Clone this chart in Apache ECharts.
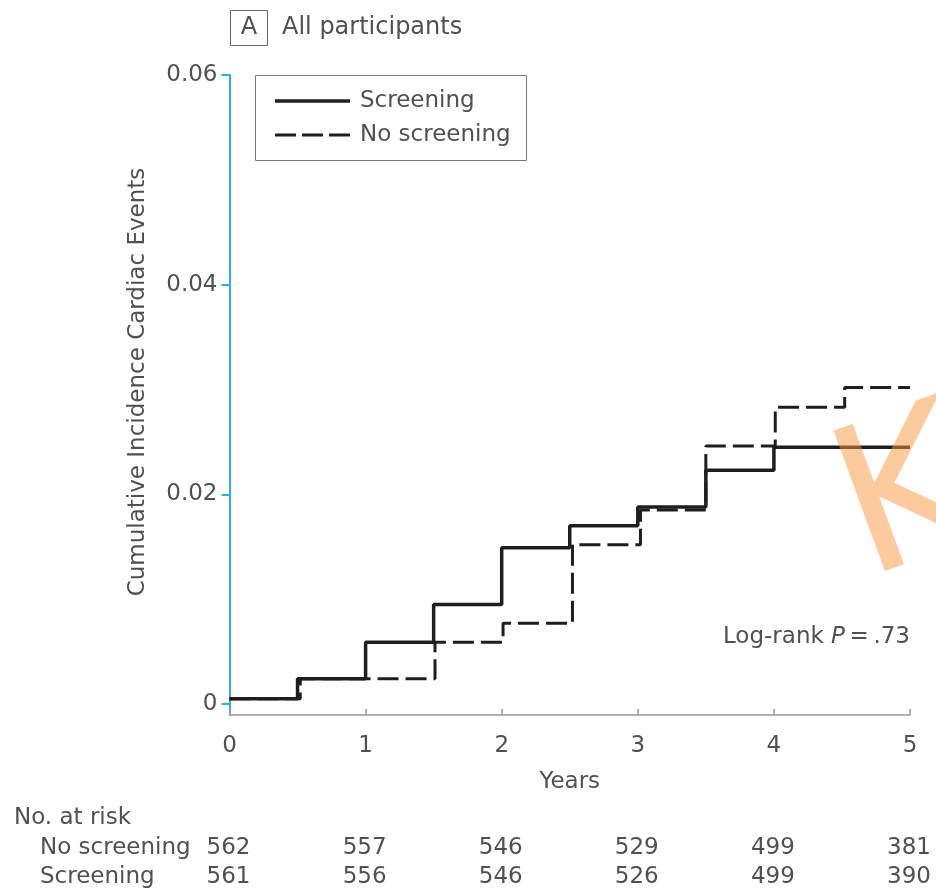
<!DOCTYPE html>
<html>
<head>
<meta charset="utf-8">
<script src="https://cdn.jsdelivr.net/npm/echarts@6/dist/echarts.min.js"></script>
<style>html,body{margin:0;padding:0;background:#fff;}#c{width:936px;height:891px;}</style>
</head>
<body>
<div id="c"></div>
<script>
// ---- data ----
var xTicks = [0, 1, 2, 3, 4, 5];
var yTickValues = [0, 0.02, 0.04, 0.06];
var screenTimes = [0, 0.5, 1.0, 1.5, 2.0, 2.5, 3.0, 3.5, 4.0, 5.0];
var screenVals  = [0.0005, 0.0024, 0.0059, 0.0095, 0.0149, 0.0170, 0.0188, 0.0223, 0.0245, 0.0245];
var noScreenTimes = [0, 0.52, 1.51, 2.01, 2.52, 3.02, 3.5, 4.01, 4.52, 5.0];
var noScreenVals  = [0.0005, 0.0024, 0.0059, 0.0077, 0.0152, 0.0185, 0.0246, 0.0283, 0.0302, 0.0302];
var riskYears = [0, 1, 2, 3, 4, 5];
var riskNoScreening = [562, 557, 546, 529, 499, 381];
var riskScreening = [561, 556, 546, 526, 499, 390];
var seriesNames = ['Screening', 'No screening'];
var rowLabels = ['No screening', 'Screening'];

var FONT = 'DejaVu Sans';
var TXT = '#505050';
var LINE = '#1e1e1e';
var DASH = [21, 7];

function pairs(t, v) { return t.map(function (x, i) { return [x, v[i]]; }); }

var chart = echarts.init(document.getElementById('c'), null, { renderer: 'canvas' });

var option = {
  animation: false,
  backgroundColor: '#fff',
  grid: { left: 229.5, right: 26, top: 75, bottom: 176, containLabel: false },
  xAxis: {
    type: 'value', min: 0, max: 5, interval: 1,
    name: 'Years', nameLocation: 'middle', nameGap: 56,
    nameTextStyle: { fontSize: 23, color: TXT, fontFamily: FONT },
    axisLine: { onZero: false, lineStyle: { color: '#9a9a9a', width: 1.5 } },
    axisTick: { show: true, inside: true, length: 6, lineStyle: { color: '#9a9a9a', width: 1.5 } },
    axisLabel: { fontSize: 23, color: TXT, fontFamily: FONT, margin: 20 },
    splitLine: { show: false }
  },
  yAxis: {
    type: 'value', min: -0.00105, max: 0.06,
    axisLine: { show: true, lineStyle: { color: '#2aaee3', width: 2 } },
    axisTick: { show: true, length: 8, customValues: yTickValues, lineStyle: { color: '#2aaee3', width: 2 } },
    axisLabel: {
      customValues: yTickValues, fontSize: 23, color: TXT, fontFamily: FONT, margin: 12,
      formatter: function (v) { return Math.abs(v) < 1e-9 ? '0' : v.toFixed(2); }
    },
    splitLine: { show: false }
  },
  series: [
    {
      name: seriesNames[0], type: 'line', step: 'end', symbol: 'none',
      data: pairs(screenTimes, screenVals),
      lineStyle: { color: LINE, width: 3.5, type: 'solid' },
      itemStyle: { color: LINE }, z: 3
    },
    {
      name: seriesNames[1], type: 'line', step: 'end', symbol: 'none',
      data: pairs(noScreenTimes, noScreenVals),
      lineStyle: { color: LINE, width: 3, type: DASH },
      itemStyle: { color: LINE }, z: 2
    }
  ]
};
chart.setOption(option);

// build graphic elements (title, legend, texts, at-risk table)
var g = [];
g.push({ type: 'rect', shape: { x: 230.5, y: 10.5, width: 37, height: 35 },
  style: { fill: 'none', stroke: '#666', lineWidth: 1 } });
g.push({ type: 'text', x: 249, y: 28, style: { text: 'A', fontSize: 24, fontFamily: FONT, fill: TXT, align: 'center', verticalAlign: 'middle' } });
g.push({ type: 'text', x: 282, y: 28, style: { text: 'All participants', fontSize: 24, fontFamily: FONT, fill: TXT, align: 'left', verticalAlign: 'middle' } });
// legend box
g.push({ type: 'rect', shape: { x: 255.5, y: 75.5, width: 271, height: 85 },
  style: { fill: '#fff', stroke: '#777', lineWidth: 1 }, z: 10 });
var legY = [101, 135];
g.push({ type: 'line', shape: { x1: 275, y1: legY[0], x2: 350, y2: legY[0] }, style: { stroke: LINE, lineWidth: 3.5 }, z: 11 });
g.push({ type: 'line', shape: { x1: 275, y1: legY[1], x2: 350, y2: legY[1] }, style: { stroke: LINE, lineWidth: 3, lineDash: [21, 6] }, z: 11 });
seriesNames.forEach(function (nm, i) {
  g.push({ type: 'text', x: 360, y: legY[i], z: 11, style: { text: nm, fontSize: 23, fontFamily: FONT, fill: TXT, align: 'left', verticalAlign: 'middle' } });
});
g.push({ type: 'text', x: 138, y: 382, rotation: Math.PI / 2,
  style: { text: 'Cumulative Incidence Cardiac Events', fontSize: 23, fontFamily: FONT, fill: TXT, align: 'center', verticalAlign: 'middle' } });
g.push({ type: 'text', x: 910, y: 637,
  style: { text: 'Log-rank {p|P}\u2009=\u2009.73', fontSize: 23, fontFamily: FONT, fill: TXT, align: 'right', verticalAlign: 'middle',
    rich: { p: { fontStyle: 'italic', fontSize: 23, fontFamily: FONT, fill: TXT } } } });
g.push({ type: 'text', x: 14, y: 818, style: { text: 'No. at risk', fontSize: 23, fontFamily: FONT, fill: TXT, align: 'left', verticalAlign: 'middle' } });
var rowsY = [848, 877];
var rowsData = [riskNoScreening, riskScreening];
rowLabels.forEach(function (lab, r) {
  g.push({ type: 'text', x: 40, y: rowsY[r], style: { text: lab, fontSize: 23, fontFamily: FONT, fill: TXT, align: 'left', verticalAlign: 'middle' } });
  rowsData[r].forEach(function (n, i) {
    var px = chart.convertToPixel({ xAxisIndex: 0 }, riskYears[i]);
    g.push({ type: 'text', x: px - 1, y: rowsY[r], style: { text: String(n), fontSize: 23, fontFamily: FONT, fill: TXT, align: 'center', verticalAlign: 'middle' } });
  });
});
// watermark
g.push({ type: 'text', x: 911, y: 505, rotation: 0.35, z: 100,
  style: { text: 'K', fontSize: 205, fontFamily: FONT, fill: 'rgba(247,150,60,0.5)', align: 'center', verticalAlign: 'middle' } });

chart.setOption({ graphic: { elements: g } });
</script>
</body>
</html>
